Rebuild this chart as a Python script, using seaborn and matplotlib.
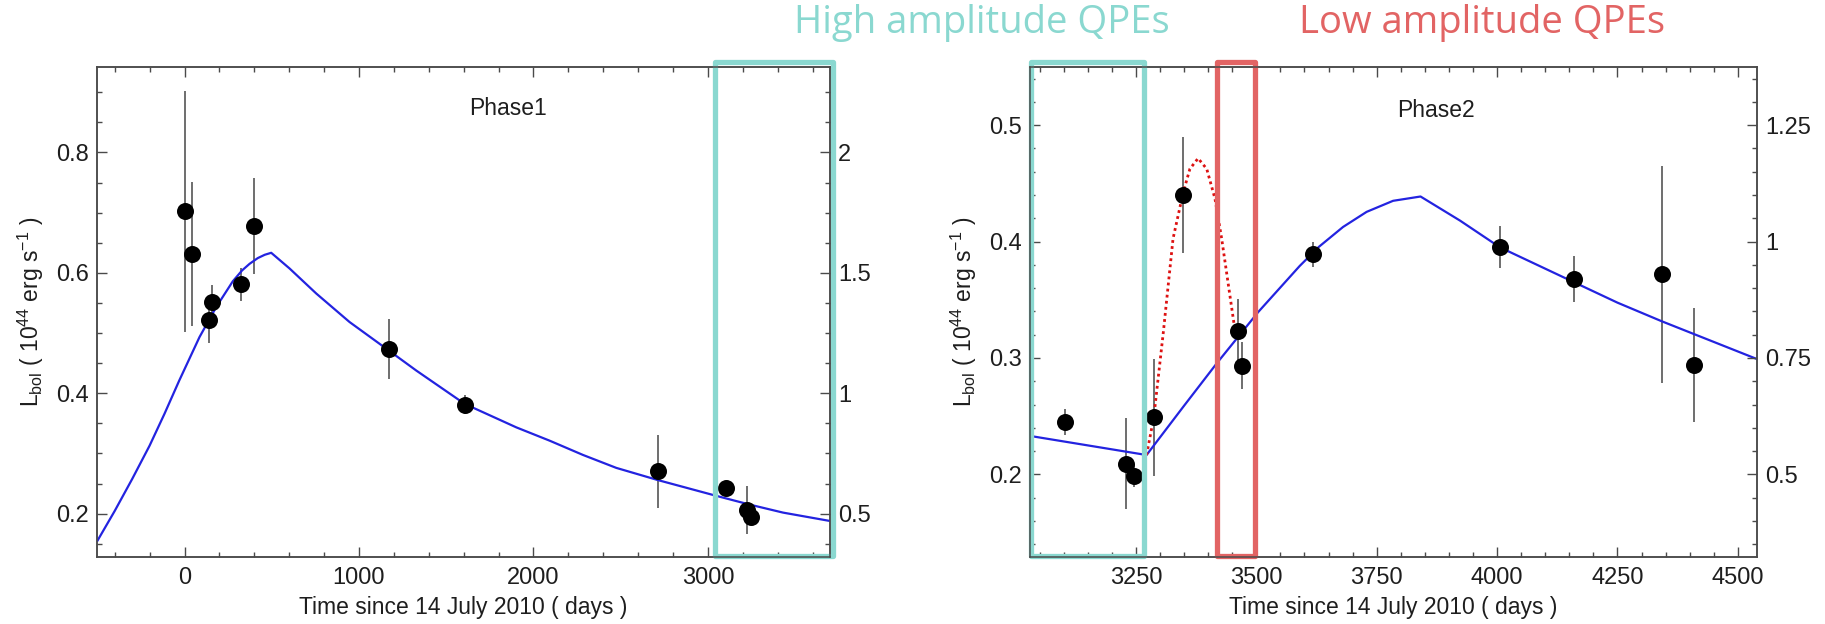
import numpy as np
import pandas as pd
import matplotlib
matplotlib.use("Agg")
import matplotlib.pyplot as plt
import seaborn as sns
from matplotlib.patches import Rectangle
from matplotlib.ticker import MultipleLocator, FuncFormatter
import matplotlib.transforms as mtransforms

# ---------------- data ----------------
# Phase 1 observations
p1_t = [0, 42, 139, 159, 325, 397, 1170, 1606, 2714, 3102, 3226, 3245]
p1_L = [0.702, 0.631, 0.521, 0.551, 0.581, 0.678, 0.473, 0.381, 0.270, 0.242, 0.206, 0.195]
p1_err = [0.20, 0.12, 0.038, 0.029, 0.027, 0.08, 0.05, 0.016, 0.06, 0.008, 0.04, 0.008]

# Phase 1 model curve
m1_t = [-500, -400, -300, -200, -115, -30, 86, 182, 277, 330, 373, 420, 460, 497,
        602, 755, 946, 1170, 1328, 1606, 1902, 2093, 2284, 2475, 2714,
        3049, 3240, 3431, 3700]
m1_L = [0.1545, 0.2045, 0.2575, 0.3130, 0.3657, 0.4212, 0.4933, 0.5433,
        0.5860, 0.6040, 0.6150, 0.6245, 0.6300, 0.6333, 0.6073, 0.5657, 0.5183,
        0.4712, 0.4378, 0.3823, 0.3433, 0.3212, 0.2975, 0.2760, 0.2557,
        0.2295, 0.2150, 0.2017, 0.1878]

# Phase 2 observations
p2_t = [3103, 3229, 3246, 3287, 3348, 3462, 3471, 3617, 4006, 4160, 4342, 4409]
p2_L = [0.245, 0.209, 0.199, 0.249, 0.440, 0.3235, 0.2935, 0.389, 0.395, 0.368, 0.3717, 0.2936]
p2_err = [0.011, 0.039, 0.01, 0.05, 0.0495, 0.027, 0.0205, 0.011, 0.018, 0.0197, 0.0934, 0.049]

# Phase 2 model curve
m2_t = [3030, 3272, 3350, 3418, 3504, 3590, 3630, 3680, 3729, 3784, 3841,
        3923, 4006, 4160, 4250, 4342, 4409, 4540]
m2_L = [0.233, 0.2166, 0.259, 0.2955, 0.3395, 0.379, 0.3955, 0.4125, 0.4255,
        0.4350, 0.4387, 0.418, 0.395, 0.3650, 0.3475, 0.3315, 0.3205, 0.2990]

# Phase 2 flare (dotted) curve
f2_t = [3272, 3287, 3307, 3327, 3348, 3362, 3379, 3397, 3414, 3428, 3442, 3452, 3458]
f2_L = [0.2166, 0.249, 0.3227, 0.4025, 0.442, 0.4624, 0.4715, 0.4624, 0.437,
        0.4025, 0.3625, 0.334, 0.317]

panel_titles = ["Phase1", "Phase2"]
xlabel = "Time since 14 July 2010 ( days )"
ylabel = r"L$_{\rm bol}$ ( 10$^{44}$ erg s$^{-1}$ )"
annot_high = "High amplitude QPEs"
annot_low = "Low amplitude QPEs"

# ---------------- styling ----------------
sns.set_theme(style="ticks")
plt.rcParams['font.family'] = ['Liberation Sans', 'DejaVu Sans']
plt.rcParams['mathtext.fontset'] = 'custom'
plt.rcParams['mathtext.rm'] = 'Liberation Sans'
plt.rcParams['mathtext.it'] = 'Liberation Sans:italic'
plt.rcParams['mathtext.bf'] = 'Liberation Sans:bold'

TEAL = "#8ad8d0"
RED = "#e26464"
AXC = "#4a4a4a"
TXT = "#1e1e1e"
FS = 16.5
TFS = 17

fig = plt.figure(figsize=(18.25, 6.24), dpi=100)
ax1 = fig.add_axes([0.0533, 0.1074, 0.4015, 0.7853])
ax2 = fig.add_axes([0.5644, 0.1074, 0.3984, 0.7853])

gfmt = FuncFormatter(lambda v, p: "%g" % round(v, 4))


def style(ax, xlim, ylim, xmaj, xmin, ymaj, ymin, rmaj, rmin):
    ax.set_xlim(*xlim)
    ax.set_ylim(*ylim)
    ax.xaxis.set_major_locator(MultipleLocator(xmaj))
    ax.xaxis.set_minor_locator(MultipleLocator(xmin))
    ax.yaxis.set_major_locator(MultipleLocator(ymaj))
    ax.yaxis.set_minor_locator(MultipleLocator(ymin))
    ax.yaxis.set_major_formatter(gfmt)
    ax.xaxis.set_major_formatter(gfmt)
    ax.tick_params(which='both', direction='in', top=True, right=False,
                   color=AXC, labelsize=TFS, labelcolor=TXT)
    ax.tick_params(axis='x', which='both', pad=7)
    ax.tick_params(axis='y', which='both', pad=6)
    ax.tick_params(which='major', length=7, width=1.0)
    ax.tick_params(which='minor', length=3.6, width=1.0)
    for s in ax.spines.values():
        s.set_color(AXC)
        s.set_linewidth(1.1)
        s.set_visible(True)
    ax.set_xlabel(xlabel, fontsize=FS, labelpad=5, color=TXT)
    ax.set_ylabel(ylabel, fontsize=FS, labelpad=7, color=TXT)
    tw = ax.twinx()
    tw.set_ylim(ylim[0] * 2.5, ylim[1] * 2.5)
    tw.yaxis.set_major_locator(MultipleLocator(rmaj))
    tw.yaxis.set_minor_locator(MultipleLocator(rmin))
    tw.yaxis.set_major_formatter(gfmt)
    tw.tick_params(which='both', direction='in', color=AXC, labelsize=TFS,
                   labelcolor=TXT, pad=6)
    tw.tick_params(which='major', length=7, width=1.0)
    tw.tick_params(which='minor', length=3.6, width=1.0)
    for s in tw.spines.values():
        s.set_color(AXC)
        s.set_linewidth(1.1)
    return tw


def draw_panel(ax, t, L, err, mt, mL):
    ax.errorbar(t, L, yerr=err, fmt='none', ecolor='#555555', elinewidth=1.2,
                capsize=0, zorder=2)
    sns.lineplot(x=mt, y=mL, ax=ax, color='#2323e0', lw=1.6, sort=False,
                 estimator=None, zorder=3)
    sns.scatterplot(x=t, y=L, ax=ax, s=150, color='black', edgecolor='black',
                    linewidth=0, zorder=4)


draw_panel(ax1, p1_t, p1_L, p1_err, m1_t, m1_L)
draw_panel(ax2, p2_t, p2_L, p2_err, m2_t, m2_L)
sns.lineplot(x=f2_t, y=f2_L, ax=ax2, color='#dd1111', lw=2.0, sort=False,
             estimator=None, linestyle=(0, (1, 1.2)), zorder=3)

style(ax1, (-500, 3700), (0.128, 0.942), 1000, 200, 0.2, 0.05, 0.5, 0.125)
style(ax2, (3030, 4540), (0.129, 0.550), 250, 50, 0.1, 0.02, 0.25, 0.05)

ax1.text(0.5605, 0.915, panel_titles[0], transform=ax1.transAxes,
         ha='center', va='center', fontsize=FS, color=TXT)
ax2.text(0.558, 0.911, panel_titles[1], transform=ax2.transAxes,
         ha='center', va='center', fontsize=FS, color=TXT)

# highlight boxes (x in data, y in axes fraction)
def box(ax, x0, x1, color):
    tr = mtransforms.blended_transform_factory(ax.transData, ax.transAxes)
    r = Rectangle((x0, 0.003), x1 - x0, 1.007, transform=tr, fill=False,
                  edgecolor=color, lw=3.8, clip_on=False, zorder=10,
                  joinstyle='round')
    ax.add_patch(r)

box(ax1, 3040, 3715, TEAL)
box(ax2, 3031, 3266, TEAL)
box(ax2, 3418, 3497, RED)

fig.text(0.538, 0.963, annot_high, ha='center', va='center', fontsize=27.5,
         color=TEAL, family=['Open Sans', 'DejaVu Sans'])
fig.text(0.812, 0.963, annot_low, ha='center', va='center', fontsize=27.5,
         color=RED, family=['Open Sans', 'DejaVu Sans'])

fig.savefig("out.png", dpi=100, facecolor='white')
